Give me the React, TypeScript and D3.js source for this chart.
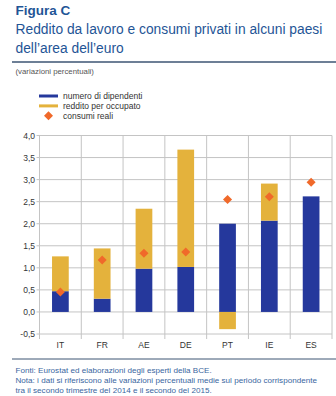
import React from "react";
import * as d3 from "d3";

const categories = ["IT", "FR", "AE", "DE", "PT", "IE", "ES"];
const dipendenti = [0.47, 0.3, 0.98, 1.02, 2.0, 2.07, 2.62];
const redditoPerOccupato = [0.79, 1.14, 1.36, 2.66, -0.39, 0.84, 0.0];
const consumiReali = [0.45, 1.18, 1.33, 1.36, 2.55, 2.61, 2.94];
const yTicks = [-0.5, 0, 0.5, 1, 1.5, 2, 2.5, 3, 3.5, 4];

const BLUE = "#25389c";
const YELLOW = "#e4b23c";
const ORANGE = "#f0692a";
const FONT = "'Liberation Sans', Arial, Helvetica, sans-serif";
const TITLE = "#1f5596";

export default function App() {
  const W = 336, H = 396;
  const left = 39.5, right = 332, top = 135.5, bottom = 334;
  const x = d3.scaleBand<string>().domain(categories).range([left, right]).padding(0);
  const y = d3.scaleLinear().domain([-0.5, 4]).range([bottom, top]);
  const bw = x.bandwidth() * 0.4;
  const fmt = (v: number) => d3.format(".1f")(v).replace(".", ",").replace("−", "-");

  const legend = [
    { label: "numero di dipendenti", type: "line", color: BLUE },
    { label: "reddito per occupato", type: "line", color: YELLOW },
    { label: "consumi reali", type: "diamond", color: ORANGE },
  ];

  const diamond = d3.symbol().type(d3.symbolDiamond2 || d3.symbolDiamond).size(52)();

  return (
    <div style={{ position: "absolute", left: 0, top: 0 }}>
      <svg width={W} height={H} style={{ display: "block", background: "#fff" }} fontFamily={FONT}>
        <text x={15.5} y={14.5} fontSize={13.5} fontWeight="bold" fill={TITLE}>Figura C</text>
        <text x={15.5} y={34} fontSize={13.8} fill={TITLE}>Reddito da lavoro e consumi privati in alcuni paesi</text>
        <text x={15.5} y={53} fontSize={13.8} fill={TITLE}>dell’area dell’euro</text>
        <line x1={12} x2={336} y1={62} y2={62} stroke="#3d5573" strokeWidth={1.3} />
        <text x={15.5} y={74} fontSize={7.8} fill="#555">(variazioni percentuali)</text>

        {legend.map((l, i) => {
          const ly = 96 + i * 9.9;
          return (
            <g key={l.label}>
              {l.type === "line" ? (
                <line x1={39} x2={58} y1={ly} y2={ly} stroke={l.color} strokeWidth={3} />
              ) : (
                <path d={diamond as string} transform={`translate(48.5,${ly})`} fill={l.color} />
              )}
              <text x={63} y={ly + 3} fontSize={8.5} fill="#333">{l.label}</text>
            </g>
          );
        })}

        {yTicks.map((t) => (
          <g key={t}>
            <line x1={left - 3} x2={right} y1={y(t)} y2={y(t)} stroke="#c4c4c4" strokeWidth={1} />
            <text x={35} y={y(t) + 3} fontSize={8.5} textAnchor="end" fill="#333">{fmt(t)}</text>
          </g>
        ))}
        {[...categories.map((c) => x(c) as number), right].map((vx, i) => (
          <line key={i} x1={vx} x2={vx} y1={top} y2={bottom + 5} stroke="#c4c4c4" strokeWidth={1} />
        ))}

        {categories.map((c, i) => {
          const cx = (x(c) as number) + x.bandwidth() / 2;
          const b = dipendenti[i];
          const r = redditoPerOccupato[i];
          const bars = [] as React.ReactNode[];
          bars.push(
            <rect key="b" x={cx - bw / 2} width={bw} y={y(Math.max(0, b))} height={Math.abs(y(b) - y(0))} fill={BLUE} />
          );
          if (r > 0) {
            bars.push(
              <rect key="r" x={cx - bw / 2} width={bw} y={y(b + r)} height={y(b) - y(b + r)} fill={YELLOW} />
            );
          } else if (r < 0) {
            bars.push(
              <rect key="r" x={cx - bw / 2} width={bw} y={y(0)} height={y(r) - y(0)} fill={YELLOW} />
            );
          }
          return (
            <g key={c}>
              {bars}
              <path d={diamond as string} transform={`translate(${cx},${y(consumiReali[i])})`} fill={ORANGE} />
              <text x={cx} y={347.5} fontSize={8.5} textAnchor="middle" fill="#333">{c}</text>
            </g>
          );
        })}

        <line x1={12} x2={336} y1={359} y2={359} stroke="#3d5573" strokeWidth={1} />
        <text x={15.5} y={372.5} fontSize={8.1} fill="#3a66a0">Fonti: Eurostat ed elaborazioni degli esperti della BCE.</text>
        <text x={15.5} y={382.8} fontSize={8.1} fill="#3a66a0">Nota: i dati si riferiscono alle variazioni percentuali medie sul periodo corrispondente</text>
        <text x={15.5} y={393.1} fontSize={8.1} fill="#3a66a0">tra il secondo trimestre del 2014 e il secondo del 2015.</text>
      </svg>
    </div>
  );
}
